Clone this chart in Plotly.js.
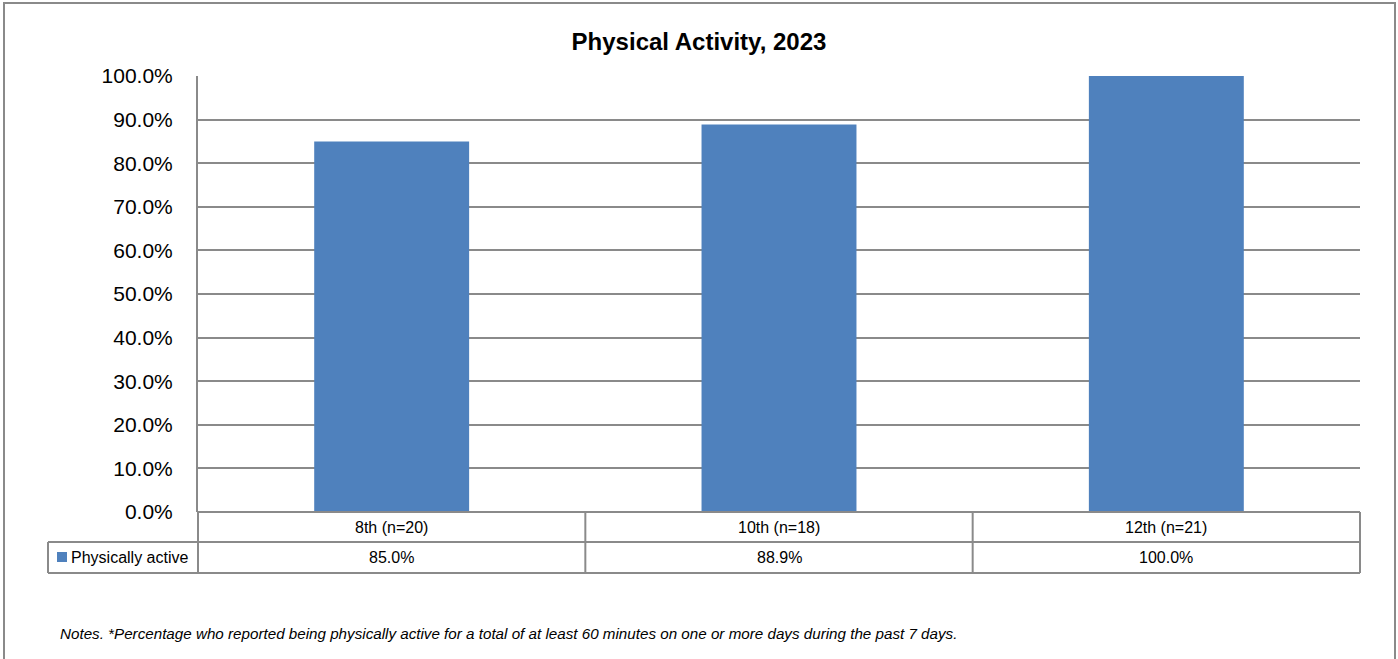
<!DOCTYPE html>
<html>
<head>
<meta charset="utf-8">
<script src="https://cdn.plot.ly/plotly-3.0.1.min.js"></script>
<style>html,body{margin:0;padding:0;background:#fff;}#chart{width:1398px;height:659px;}</style>
</head>
<body>
<div id="chart"></div>
<script>
const categories = ["8th (n=20)", "10th (n=18)", "12th (n=21)"];
const seriesName = "Physically active";
const values = [0.85, 0.889, 1.0];
const yTickVals = [0, 0.1, 0.2, 0.3, 0.4, 0.5, 0.6, 0.7, 0.8, 0.9, 1.0];
const titleText = "Physical Activity, 2023";
const noteText = "Notes. *Percentage who reported being physically active for a total of at least 60 minutes on one or more days during the past 7 days.";

const FONT = "Liberation Sans, Arial, sans-serif";
const GRID = "#8a8a8a";
const BLUE = "#4F81BD";

// pixel -> paper helpers (plot area: x 198..1360, y 76..512)
const L = 198, R = 1360, T = 76, B = 512;
const px = x => (x - L) / (R - L);
const py = y => (B - y) / (B - T);

const fmt = v => (v * 100).toFixed(1) + "%";

const shapes = [];
const line = (x0, y0, x1, y1, w) => shapes.push({type: "line", xref: "paper", yref: "paper",
  x0: px(x0), y0: py(y0), x1: px(x1), y1: py(y1), line: {color: GRID, width: w || 2}});

// outer frame
shapes.push({type: "rect", xref: "paper", yref: "paper", x0: px(4), x1: px(1395), y0: py(3), y1: py(700),
  line: {color: GRID, width: 2}, fillcolor: "rgba(0,0,0,0)", layer: "below"});
// table horizontal lines
line(L, 512, R, 512);
line(48, 542, R, 542);
line(48, 573, R, 573);
// table vertical lines
for (let i = 0; i <= categories.length; i++) {
  const x = L + (R - L) * i / categories.length;
  line(x, 512, x, 573);
}
line(48, 542, 48, 573);
// legend swatch
shapes.push({type: "rect", xref: "paper", yref: "paper", x0: px(57), x1: px(67), y0: py(552), y1: py(562),
  line: {width: 0}, fillcolor: BLUE});

const annotations = [];
categories.forEach((c, i) => {
  annotations.push({xref: "x", yref: "paper", x: c, y: py(527), text: c, showarrow: false,
    xanchor: "center", yanchor: "middle", font: {family: FONT, size: 16, color: "#000"}});
  annotations.push({xref: "x", yref: "paper", x: c, y: py(557.5), text: fmt(values[i]), showarrow: false,
    xanchor: "center", yanchor: "middle", font: {family: FONT, size: 16, color: "#000"}});
});
annotations.push({xref: "paper", yref: "paper", x: px(69), y: py(557.5), text: seriesName, showarrow: false,
  xanchor: "left", yanchor: "middle", font: {family: FONT, size: 16, color: "#000"}});
annotations.push({xref: "paper", yref: "paper", x: px(58), y: py(633), text: "<i>" + noteText + "</i>", showarrow: false,
  xanchor: "left", yanchor: "middle", font: {family: FONT, size: 15.2, color: "#000"}});

const data = [{
  type: "bar", x: categories, y: values, name: seriesName,
  marker: {color: BLUE}, width: 0.4, hoverinfo: "skip"
}];

const layout = {
  width: 1398, height: 659,
  margin: {l: L, r: 1398 - R, t: T, b: 659 - B, pad: 0},
  paper_bgcolor: "#fff", plot_bgcolor: "#fff",
  showlegend: false,
  title: {text: titleText, x: 0.5, xref: "container", xanchor: "center", y: 1 - 42 / 659, yanchor: "middle",
    font: {family: FONT, size: 24, color: "#000", weight: 700}},
  xaxis: {type: "category", range: [-0.5, 2.5], showticklabels: false, ticks: "", showgrid: false,
    zeroline: false, showline: false, fixedrange: true},
  yaxis: {range: [0, 1], tickvals: yTickVals, tickformat: ".1%", ticks: "", showgrid: true,
    gridcolor: GRID, gridwidth: 2, zeroline: false, showline: true, linecolor: GRID, linewidth: 2,
    ticklabelstandoff: 19, tickfont: {family: FONT, size: 21, color: "#000"}, fixedrange: true},
  shapes: shapes,
  annotations: annotations
};

Plotly.newPlot("chart", data, layout, {displayModeBar: false, staticPlot: true});
</script>
</body>
</html>
